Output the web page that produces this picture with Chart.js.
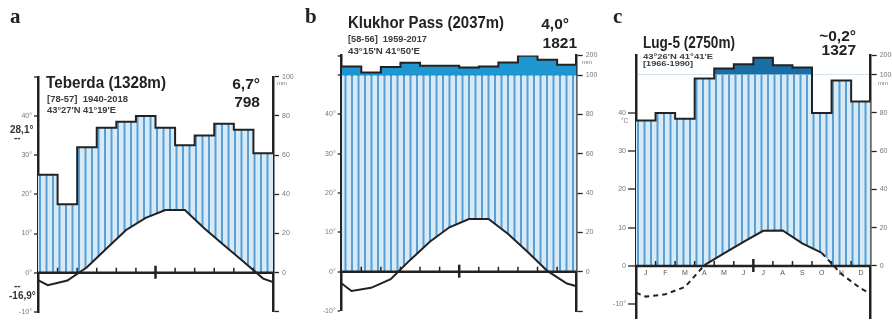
<!DOCTYPE html>
<html><head><meta charset="utf-8">
<script src="https://cdn.jsdelivr.net/npm/chart.js@4/dist/chart.umd.min.js"></script>
<style>
html,body{margin:0;padding:0;background:#fff;}
#wrap{position:relative;width:892px;height:326px;overflow:hidden;font-family:"Liberation Sans",Arial,sans-serif;}
canvas{position:absolute;left:0;top:0;}
.t{position:absolute;white-space:nowrap;line-height:1;color:#222;font-weight:bold;}
.ti{font-size:16px;}
.sub{font-size:8.5px;color:#3a3a3a;}
.big{font-size:15.5px;}
.let{font-family:"Liberation Serif",serif;font-size:21px;}
.mm{font-size:6px;color:#777;font-weight:normal;}
.ex{font-size:10px;color:#333;}
</style></head><body><div id="wrap">
<canvas id="ca" width="892" height="326"></canvas>
<canvas id="cb" width="892" height="326"></canvas>
<canvas id="cc" width="892" height="326"></canvas>

<div class="t let" style="left:10px;top:6px">a</div>
<div class="t ti" data-w="120" style="left:46px;top:75px">Teberda (1328m)</div>
<div class="t sub" data-w="81" style="left:47px;top:94.8px">[78-57]&nbsp;&nbsp;1940-2018</div>
<div class="t sub" data-w="69" style="left:47px;top:106.3px">43°27'N 41°19'E</div>
<div class="t big" style="right:632px;top:75.5px">6,7°</div>
<div class="t big" style="right:632px;top:93.5px">798</div>
<div class="t ex" style="left:10px;top:125px">28,1°</div>
<div class="t ex" style="left:14px;top:133px">--</div>
<div class="t ex" style="left:14px;top:281px">--</div>
<div class="t ex" style="left:9px;top:291px">-16,9°</div>
<div class="t mm" style="left:277px;top:80px">mm</div>

<div class="t let" style="left:305px;top:6px">b</div>
<div class="t ti" data-w="156" style="left:348px;top:15px">Klukhor Pass (2037m)</div>
<div class="t sub" data-w="79" style="left:348px;top:34.8px">[58-56]&nbsp;&nbsp;1959-2017</div>
<div class="t sub" data-w="72" style="left:348px;top:46.8px">43°15'N 41°50'E</div>
<div class="t big" style="right:323px;top:15.5px">4,0°</div>
<div class="t big" style="right:315px;top:34.5px">1821</div>
<div class="t mm" style="left:582px;top:59px">mm</div>

<div class="t let" style="left:613px;top:6px">c</div>
<div class="t ti" data-w="92" style="left:643px;top:35px">Lug-5 (2750m)</div>
<div class="t sub" data-w="70" style="left:643px;top:52.5px;font-size:8px">43°26'N 41°41'E</div>
<div class="t sub" data-w="50" style="left:643px;top:59.5px;font-size:8px">[1966-1990]</div>
<div class="t big" style="right:36px;top:27.5px">~0,2°</div>
<div class="t big" style="right:36px;top:41.5px">1327</div>
<div class="t mm" style="left:621px;top:118px;font-size:6.5px">°C</div>
<div class="t mm" style="left:878px;top:80px">mm</div>
</div>
<script>
// ---- data ----
const months = ['J','F','M','A','M','J','J','A','S','O','N','D'];

const precipA = [50, 35, 64, 74, 77, 80, 74, 65, 70, 76, 73, 61];
const tempA   = [-3.2, -2.0, 1.4, 6.2, 10.9, 14.0, 16.0, 16.0, 11.3, 7.0, 2.8, -1.5];
const tempEdgesA = [-1.9, -2.4];

const precipB = [144, 113, 142, 163, 148, 148, 139, 144, 165, 199, 178, 153];
const tempB   = [-4.9, -4.1, -1.9, 3.0, 7.6, 11.3, 13.4, 13.4, 9.6, 5.0, 0.2, -3.0];
const tempEdgesB = [-3.0, -3.7];

const precipC = [76, 80, 77, 98, 132, 154, 188, 149, 137, 80, 97, 86];
const tempC   = [-8.0, -7.4, -5.5, 0.2, 3.3, 6.3, 9.2, 9.3, 5.9, 3.4, -2.1, -5.9];
const tempEdgesC = [-7.0, -7.3];

const tempTicksA = [50, 40, 30, 20, 10, 0, -10];
const tempTicksB = [55, 50, 40, 30, 20, 10, 0, -10];
const tempTicksC = [40, 30, 20, 10, 0, -10];
const mmTicksA = [100, 80, 60, 40, 20, 0];
const mmTicksBC = [200, 100, 80, 60, 40, 20, 0];
const mmLabelsB = ['200', '100', '80', '60', '40', '20', '0'];
const mmLabelsC = ['2000', '1000', '80', '60', '40', '20', '0'];

// Walter-Lieth scale: 20 mm = 10 °C, above 100 mm compressed 1:10
const toUnits = p => p <= 100 ? p / 2 : 50 + (p - 100) / 20;

Chart.defaults.font.family = "'Liberation Sans', Arial, sans-serif";

const zeroLine = {
  id: 'zeroLine',
  afterDatasetsDraw(chart) {
    const { ctx, chartArea: a, scales: { x, y } } = chart;
    const y0 = y.getPixelForValue(0);
    ctx.save();
    ctx.strokeStyle = '#222';
    ctx.lineWidth = 2.5;
    ctx.beginPath(); ctx.moveTo(a.left, y0); ctx.lineTo(a.right, y0); ctx.stroke();
    for (let m = 1; m < 12; m++) {
      const px = x.getPixelForValue(m);
      ctx.beginPath();
      if (m === 6) { ctx.lineWidth = 2.5; ctx.moveTo(px, y0 - 7); ctx.lineTo(px, y0 + 6); }
      else { ctx.lineWidth = 1.5; ctx.moveTo(px, y0); ctx.lineTo(px, y0 - 5); }
      ctx.stroke();
    }
    ctx.restore();
  }
};

function makeHatch(ctx) {
  const c = document.createElement('canvas');
  c.width = 13; c.height = 13;
  const g = c.getContext('2d');
  g.fillStyle = '#d6eaf7'; g.fillRect(0, 0, 13, 13);
  g.fillStyle = '#5b9fd3'; g.fillRect(0, 0, 2, 13); g.fillRect(6.5, 0, 2, 13);
  return ctx.createPattern(c, 'repeat');
}

function makeChart(id, o) {
  const ctx = document.getElementById(id).getContext('2d');
  const pat = makeHatch(ctx);
  const WL = 30, WR = 30;
  const stepCap = o.precip.map((p, i) => ({ x: i, y: toUnits(Math.min(p, 100)) }));
  stepCap.push({ x: 12, y: stepCap[11].y });
  const stepFull = o.precip.map((p, i) => ({ x: i, y: toUnits(p) }));
  stepFull.push({ x: 12, y: stepFull[11].y });
  const tline = [{ x: 0, y: o.edges[0] }]
    .concat(o.temp.map((t, i) => ({ x: i + 0.5, y: t })))
    .concat([{ x: 12, y: o.edges[1] }]);
  const rightVals = o.mm.map(toUnits).concat(o.cap ? [o.min] : []);
  const rightLabels = o.mmLabels.concat(o.cap ? [''] : []);

  const xScale = o.monthLabels ? {
    type: 'linear', min: 0, max: 12, position: { y: 0 }, z: 1,
    afterFit: s => { s.height = 0; },
    afterBuildTicks: s => { s.ticks = months.map((m, i) => ({ value: i + 0.5 })); },
    ticks: { callback: (v, i) => months[i], font: { size: 7 }, color: '#555', padding: 3, maxRotation: 0, autoSkip: false },
    grid: { display: false, drawTicks: false },
    border: { display: false }
  } : { type: 'linear', min: 0, max: 12, display: false };

  new Chart(ctx, {
    type: 'line',
    data: { datasets: [
      { data: stepFull, stepped: true, borderColor: '#222', borderWidth: 2, pointRadius: 0,
        fill: { target: { value: 50 }, above: o.dark, below: 'rgba(0,0,0,0)' }, order: 1 },
      { data: tline, borderColor: '#222', borderWidth: 2, pointRadius: 0, tension: 0,
        fill: { target: 'origin', above: '#ffffff', below: 'rgba(0,0,0,0)' },
        segment: o.dash ? { borderDash: c => (c.p0.parsed.y < 0 || c.p1.parsed.y < 0) ? [5, 4] : undefined } : {},
        order: 2 },
      { data: stepCap, stepped: true, borderWidth: 0, borderColor: 'rgba(0,0,0,0)', pointRadius: 0,
        fill: 'origin', backgroundColor: pat, order: 3 }
    ] },
    options: {
      responsive: false, animation: false, devicePixelRatio: 1,
      layout: { padding: { left: o.area.left - WL, right: 892 - o.area.right - WR, top: o.area.top, bottom: 326 - o.area.bottom } },
      plugins: { legend: { display: false }, tooltip: { enabled: false } },
      scales: {
        x: xScale,
        y: {
          type: 'linear', position: 'left', min: o.min, max: o.max, z: 1,
          afterBuildTicks: s => { s.ticks = o.leftTicks.map(v => ({ value: v })); },
          afterFit: s => { s.width = WL; },
          border: { display: true, color: '#222', width: 2.5 },
          grid: {
            drawOnChartArea: !!o.line100,
            color: c => (c.tick && c.tick.value === 50) ? '#222' : 'rgba(0,0,0,0)',
            lineWidth: c => (c.tick && c.tick.value === 50) ? 2 : 0,
            drawTicks: true, tickLength: o.tlL, tickColor: '#222', tickWidth: 1.3
          },
          ticks: { font: { size: 7 }, color: '#777', padding: 2, callback: v => o.leftLabel(v) }
        },
        y2: {
          type: 'linear', position: 'right', min: o.min, max: o.max, z: 1,
          afterBuildTicks: s => { s.ticks = rightVals.map(v => ({ value: v })); },
          afterFit: s => { s.width = WR; },
          border: { display: true, color: '#222', width: 2.5 },
          grid: { drawOnChartArea: false, drawTicks: true, tickLength: o.tlR, tickColor: '#222', tickWidth: 1.3 },
          ticks: { font: { size: 7 }, color: '#777', padding: 3, callback: (v, i) => rightLabels[i] }
        }
      }
    },
    plugins: [zeroLine]
  });
}

const degLabel = v => (v === 50 || v === 55) ? '' : v + '°';

makeChart('ca', { precip: precipA, temp: tempA, edges: tempEdgesA,
  area: { left: 38, right: 273, top: 76.8, bottom: 311.9 }, min: -10, max: 50,
  leftTicks: tempTicksA, leftLabel: degLabel, mm: mmTicksA, mmLabels: mmTicksA.map(String), cap: true,
  tlL: 4, tlR: 6, dark: '#1e96d2', line100: false, dash: false });

makeChart('cb', { precip: precipB, temp: tempB, edges: tempEdgesB,
  area: { left: 341.7, right: 576.7, top: 55.5, bottom: 311 }, min: -10, max: 55,
  leftTicks: tempTicksB, leftLabel: degLabel, mm: mmTicksBC, mmLabels: mmLabelsB, cap: true,
  tlL: 4, tlR: 6, dark: '#1e96d2', line100: true, dash: false });

makeChart('cc', { precip: precipC, temp: tempC, edges: tempEdgesC,
  area: { left: 636, right: 870.7, top: 55.5, bottom: 326 }, min: -13.8, max: 55,
  leftTicks: tempTicksC, leftLabel: v => v === -10 ? '-10°' : String(v), mm: mmTicksBC, mmLabels: mmLabelsC, cap: false,
  tlL: 8, tlR: 6, dark: '#176fa6', line100: false, dash: true, monthLabels: true });

document.querySelectorAll('[data-w]').forEach(el => {
  const w = el.getBoundingClientRect().width;
  el.style.transformOrigin = 'left center';
  el.style.transform = 'scaleX(' + (el.dataset.w / w) + ')';
});
</script>
</body></html>
